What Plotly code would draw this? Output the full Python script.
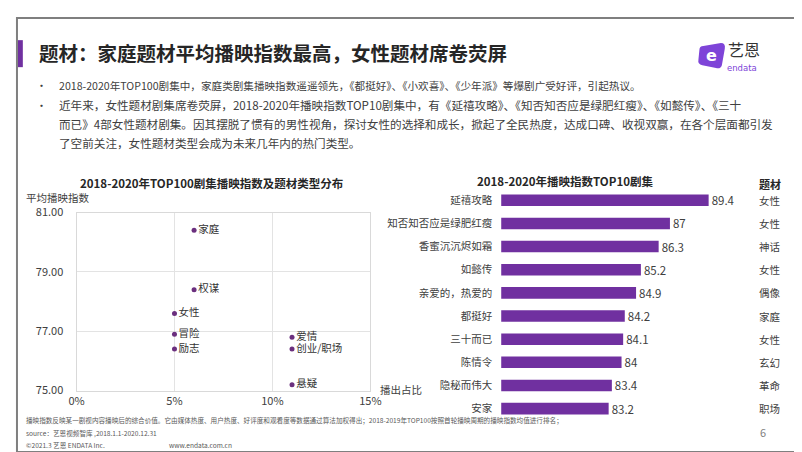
import plotly.graph_objects as go

W, H = 802, 452
def px(x): return x / W
def py(y): return 1 - y / H

FONT = "Noto Sans CJK SC"
TXT = "#404040"

# ---------- data ----------
genres = ["家庭", "权谋", "女性", "冒险", "励志", "爱情", "创业/职场", "悬疑"]
share = [0.06, 0.06, 0.05, 0.05, 0.05, 0.11, 0.11, 0.11]
avg_index = [80.4, 78.4, 77.6, 76.9, 76.4, 76.8, 76.4, 75.2]

dramas = ["延禧攻略", "知否知否应是绿肥红瘦", "香蜜沉沉烬如霜", "如懿传", "亲爱的，热爱的",
          "都挺好", "三十而已", "陈情令", "隐秘而伟大", "安家"]
drama_index = [89.4, 87, 86.3, 85.2, 84.9, 84.2, 84.1, 84, 83.4, 83.2]
drama_genre = ["女性", "女性", "神话", "女性", "偶像", "家庭", "女性", "玄幻", "革命", "职场"]

scatter_yticks = [75, 77, 79, 81]
scatter_xticks = [0, 0.05, 0.10, 0.15]

fig = go.Figure()

fig.add_trace(go.Scatter(
    x=share, y=avg_index, mode="markers+text", text=genres,
    textposition="middle right",
    textfont=dict(family=FONT, size=10.5, color="#333333"),
    marker=dict(size=5, color="#6B2F7E"),
    xaxis="x", yaxis="y", hoverinfo="skip", cliponaxis=False,
))

fig.add_trace(go.Bar(
    x=drama_index, y=dramas, orientation="h",
    marker=dict(color="#7030A0", line=dict(width=0)), width=0.5,
    text=[f"{v:g}" for v in drama_index], textposition="outside", constraintext="none",
    textfont=dict(family=FONT, size=11.5, color=TXT),
    xaxis="x2", yaxis="y2", cliponaxis=False, hoverinfo="skip",
))

annotations = []
shapes = []

annotations.append(dict(text="<b>题材：家庭题材平均播映指数最高，女性题材席卷荧屏</b>",
                        x=px(21), y=py(37), xref="paper", yref="paper", xanchor="left", yanchor="middle",
                        showarrow=False, font=dict(family=FONT, size=19.5, color="#262626")))
shapes.append(dict(type="rect", xref="paper", yref="paper", x0=px(2), x1=px(7), y0=py(24), y1=py(52),
                   fillcolor="#7030A0", line=dict(width=0)))

bullet_lines = [
    (71, True, 10.6, "2018-2020年TOP100剧集中，家庭类剧集播映指数遥遥领先，《都挺好》、《小欢喜》、《少年派》等爆剧广受好评，引起热议。"),
    (91, True, 11.6, "近年来，女性题材剧集席卷荧屏，2018-2020年播映指数TOP10剧集中，有《延禧攻略》、《知否知否应是绿肥红瘦》、《如懿传》、《三十"),
    (111, False, 11.6, "而已》4部女性题材剧集。因其摆脱了惯有的男性视角，探讨女性的选择和成长，掀起了全民热度，达成口碑、收视双赢，在各个层面都引发"),
    (131, False, 11.6, "了空前关注，女性题材类型会成为未来几年内的热门类型。"),
]
for yy, has_b, fs, t in bullet_lines:
    if has_b:
        annotations.append(dict(text="•", x=px(26), y=py(yy), xref="paper", yref="paper",
                                xanchor="center", yanchor="middle", showarrow=False,
                                font=dict(family=FONT, size=11, color=TXT)))
    annotations.append(dict(text=t, x=px(42), y=py(yy), xref="paper", yref="paper",
                            xanchor="left", yanchor="middle", showarrow=False,
                            font=dict(family=FONT, size=fs, color=TXT)))

annotations.append(dict(text="<b>2018-2020年TOP100剧集播映指数及题材类型分布</b>", x=px(200), y=py(172),
                        xref="paper", yref="paper", xanchor="center", yanchor="middle", showarrow=False,
                        font=dict(family=FONT, size=11.5, color="#262626")))
annotations.append(dict(text="<b>2018-2020年播映指数TOP10剧集</b>", x=px(562), y=py(170),
                        xref="paper", yref="paper", xanchor="center", yanchor="middle", showarrow=False,
                        font=dict(family=FONT, size=11.5, color="#262626")))
annotations.append(dict(text="平均播映指数", x=px(8), y=py(187), xref="paper", yref="paper",
                        xanchor="left", yanchor="middle", showarrow=False,
                        font=dict(family=FONT, size=10.5, color=TXT)))
annotations.append(dict(text="播出占比", x=px(371), y=py(386), xref="paper", yref="paper",
                        xanchor="left", yanchor="middle", showarrow=False,
                        font=dict(family=FONT, size=10.5, color=TXT)))

annotations.append(dict(text="<b>题材</b>", x=px(772), y=py(173), xref="paper", yref="paper",
                        xanchor="center", yanchor="middle", showarrow=False,
                        font=dict(family=FONT, size=11, color="#262626")))
for d, g in zip(dramas, drama_genre):
    annotations.append(dict(text=g, x=px(772), y=d, xref="paper", yref="y2",
                            xanchor="center", yanchor="middle", showarrow=False,
                            font=dict(family=FONT, size=10.5, color=TXT)))

foot = [
    (418, 8, "播映指数反映某一剧视内容播映后的综合价值。它由媒体热度、用户热度、好评度和观看度等数据通过算法加权得出；2018-2019年TOP100按照首轮播映周期的播映指数均值进行排名；"),
    (431, 8, "source：艺恩视频智库 ,2018.1.1-2020.12.31"),
    (444, 8, "©2021.3 艺恩 ENDATA Inc."),
    (444, 155, "www.endata.com.cn"),
]
for yy, xx, t in foot:
    annotations.append(dict(text=t, x=px(xx), y=py(yy), xref="paper", yref="paper",
                            xanchor="left", yanchor="middle", showarrow=False,
                            font=dict(family=FONT, size=6.6, color="#595959")))
annotations.append(dict(text="6", x=px(765), y=py(430), xref="paper", yref="paper",
                        xanchor="center", yanchor="middle", showarrow=False,
                        font=dict(family=FONT, size=11, color="#7f7f7f")))

shapes.append(dict(type="path", xref="paper", yref="paper",
                   path=f"M {px(704)} {py(30)} L {px(722)} {py(27)} Q {px(727)} {py(27)} {px(726)} {py(33)} "
                        f"L {px(723)} {py(50)} Q {px(722)} {py(54)} {px(717)} {py(53)} L {px(703)} {py(50)} "
                        f"Q {px(698)} {py(49)} {px(699)} {py(44)} L {px(700)} {py(34)} Q {px(700)} {py(30)} {px(704)} {py(30)} Z",
                   fillcolor="#7E44D8", line=dict(width=0)))
annotations.append(dict(text="<b>e</b>", x=px(712), y=py(40), xref="paper", yref="paper",
                        xanchor="center", yanchor="middle", showarrow=False,
                        font=dict(family="DejaVu Sans", size=16, color="white")))
annotations.append(dict(text="艺恩", x=px(746), y=py(33), xref="paper", yref="paper",
                        xanchor="center", yanchor="middle", showarrow=False,
                        font=dict(family=FONT, size=16, color="#333333")))
annotations.append(dict(text="endata", x=px(744), y=py(53), xref="paper", yref="paper",
                        xanchor="center", yanchor="middle", showarrow=False,
                        font=dict(family="DejaVu Sans", size=8.5, color="#7E44D8")))

# page border: four line shapes
bc = "#7f7f7f"
for (xa, ya, xb, yb) in [(0, 1, 802, 1), (0, 451, 802, 451), (1, 0, 1, 452), (801, 0, 801, 452)]:
    shapes.append(dict(type="line", xref="paper", yref="paper", x0=px(xa), y0=py(ya), x1=px(xb), y1=py(yb),
                       line=dict(color=bc, width=2), layer="above"))

x2_min = 76.54
x2_max = x2_min + (760 - 497) / 16.52

fig.update_layout(
    width=W, height=H, margin=dict(l=0, r=0, t=0, b=0),
    paper_bgcolor="white", plot_bgcolor="rgba(0,0,0,0)",
    showlegend=False, annotations=annotations, shapes=shapes,
    font=dict(family=FONT, color=TXT),
    xaxis=dict(domain=[px(62), px(363)], range=[0, 0.15], tickvals=scatter_xticks, tickformat=".0%",
               showgrid=True, gridcolor="#e3e3e3", gridwidth=1, zeroline=False,
               showline=True, linecolor="#d9d9d9", mirror=True, ticks="",
               tickfont=dict(family=FONT, size=11, color=TXT), anchor="y", fixedrange=True),
    yaxis=dict(domain=[py(387.3), py(202.7)], range=[75, 81], tickvals=scatter_yticks, tickformat=".2f",
               showgrid=True, gridcolor="#e3e3e3", gridwidth=1, zeroline=False,
               showline=True, linecolor="#d9d9d9", mirror=True, ticks="",
               ticklabelstandoff=10,
               tickfont=dict(family=FONT, size=11, color=TXT), anchor="x", fixedrange=True),
    xaxis2=dict(domain=[px(497), px(760)], range=[x2_min, x2_max], visible=False, anchor="y2"),
    yaxis2=dict(domain=[py(418), py(178)], autorange="reversed", anchor="x2", type="category",
                showgrid=False, showline=False, zeroline=False, ticks="", ticklabelstandoff=8,
                tickfont=dict(family=FONT, size=10.5, color=TXT)),
)

fig.write_html("out.html")
